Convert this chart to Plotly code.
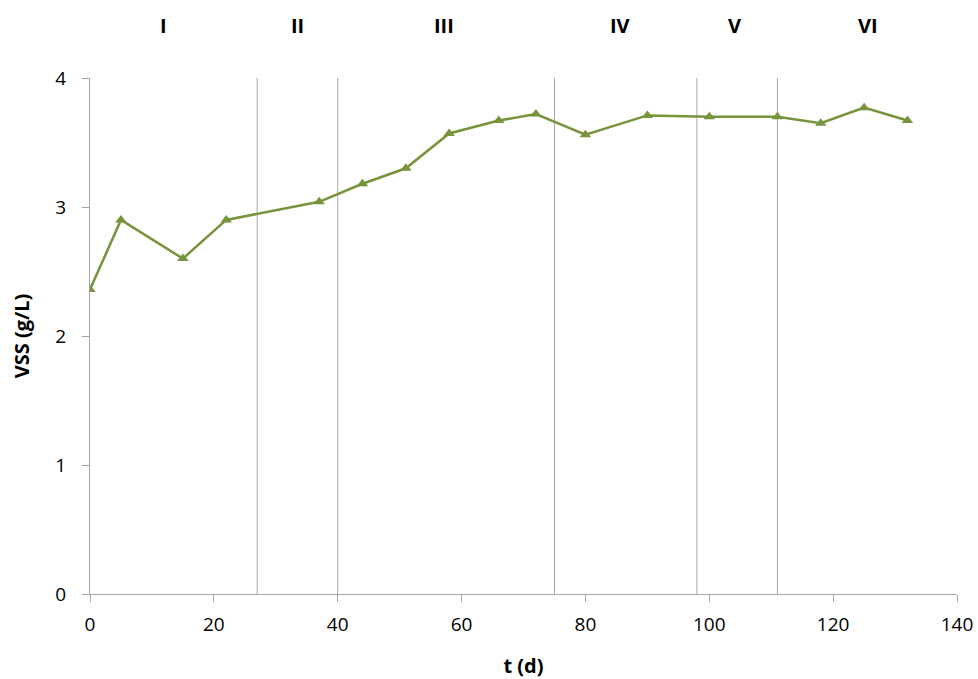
import plotly.graph_objects as go

t_days = [0, 5, 15, 22, 37, 44, 51, 58, 66, 72, 80, 90, 100, 111, 118, 125, 132]
vss = [2.36, 2.90, 2.60, 2.90, 3.04, 3.18, 3.30, 3.57, 3.67, 3.72, 3.56, 3.71, 3.70, 3.70, 3.65, 3.77, 3.67]

phase_bounds = [27, 40, 75, 98, 111]
phase_labels = ["I", "II", "III", "IV", "V", "VI"]
phase_label_x = [11.8, 33.5, 57.2, 85.6, 104, 125.6]

color = "#77933C"
font = "Open Sans"

W, H = 978, 679
L, T, R, B = 90, 78, 21, 85

fig = go.Figure()
fig.add_trace(go.Scatter(
    x=t_days, y=vss, mode="lines+markers",
    line=dict(color=color, width=2.5),
    marker=dict(symbol="triangle-up", size=10, color=color),
    showlegend=False,
))

for b in phase_bounds:
    fig.add_shape(type="line", xref="x", yref="y", x0=b, x1=b, y0=0, y1=4,
                  line=dict(color="#A6A6A6", width=1), layer="below")

plot_h = H - T - B
label_y = 1 + (78 - 25) / plot_h
for lab, lx in zip(phase_labels, phase_label_x):
    fig.add_annotation(x=lx, xref="x", y=label_y, yref="paper", yanchor="middle",
                       text=f"<b>{lab}</b>", showarrow=False,
                       font=dict(family=font, size=20, color="#000"))

fig.update_layout(
    width=W, height=H,
    margin=dict(l=L, r=R, t=T, b=B, autoexpand=False),
    plot_bgcolor="white", paper_bgcolor="white",
    font=dict(family=font, size=19, color="#000"),
    xaxis=dict(range=[0, 140], tickvals=[0, 20, 40, 60, 80, 100, 120, 140],
               automargin=False, ticklabeloverflow="allow",
               showgrid=False, zeroline=False, showline=True, linecolor="#A6A6A6",
               ticks="outside", ticklen=7, tickcolor="#A6A6A6",
               ticklabelstandoff=6,
               title=dict(text="<b>t (d)</b>", font=dict(size=20), standoff=26)),
    yaxis=dict(range=[0, 4], tickvals=[0, 1, 2, 3, 4],
               automargin=False,
               showgrid=False, zeroline=False, showline=True, linecolor="#A6A6A6",
               ticks="outside", ticklen=7, tickcolor="#A6A6A6",
               ticklabelstandoff=12,
               title=dict(text="<b>VSS (g/L)</b>", font=dict(size=20), standoff=20)),
)

fig.write_html(
    "out.html",
    config={"displayModeBar": False},
    post_script="document.body.style.margin='0px'; document.body.style.overflow='hidden';",
)
